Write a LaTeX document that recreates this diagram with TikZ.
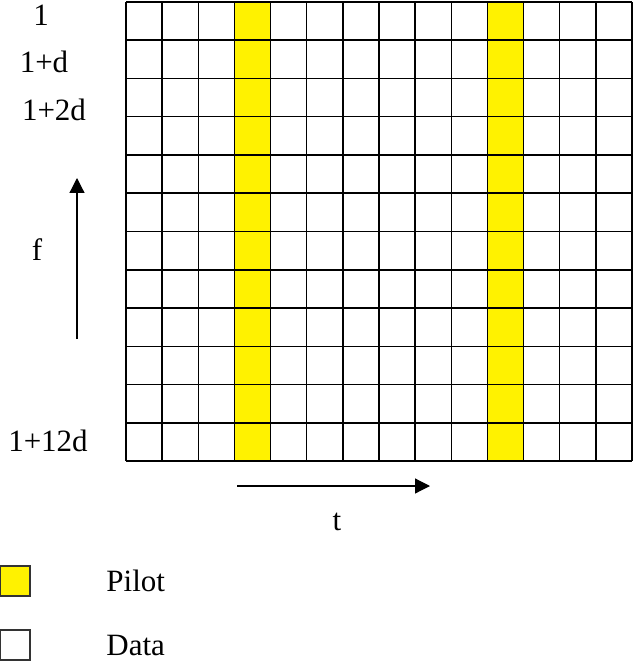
\documentclass[tikz,border=0pt]{standalone}
\usepackage{fontspec}
\setmainfont{Liberation Serif}
\usetikzlibrary{arrows.meta,positioning}

\begin{document}
\begin{tikzpicture}[
  x=0.5pt, y=-0.5pt,
  gridline/.style={line width=0.75pt},
  lbl/.style={inner sep=0pt, font=\fontsize{15.5}{18}\selectfont},
  key/.style={draw=black!80, line width=0.6pt, minimum size=15pt, inner sep=0pt},
  arr/.style={-{Triangle[length=7.5pt,width=7.5pt]}, line width=0.6pt}
]
\useasboundingbox (0,0) rectangle (634,662);

% pilot columns, then the 14 x 12 grid
\foreach \c in {3,10}
  \fill[yellow] ({126+\c*36.14},2) rectangle ({126+(\c+1)*36.14},461);
\foreach \c in {0,...,14}
  \draw[gridline] ({126+\c*36.14},2) -- ({126+\c*36.14},461);
\foreach \r in {0,...,12}
  \draw[gridline] (126,{2+\r*38.25}) -- (632,{2+\r*38.25});

% frequency labels
\node[lbl] (f1) at (41,15) {1};
\node[lbl] (f2) at (44,62) {1+d};
\node[lbl] (f3) at (54,110) {1+2d};
\node[lbl] (f13) at (48,441) {1+12d};

% axes
\coordinate (fa) at (77,339);
\coordinate (fb) at (77,178);
\draw[arr] (fa) -- (fb);
\node[lbl] (flab) at (37,250) {f};

\coordinate (ta) at (237,486);
\coordinate (tb) at (430,486);
\draw[arr] (ta) -- (tb);
\node[lbl] (tlab) at (337,522) {t};

% legend
\node[key, fill=yellow] (kp) at (15,581) {};
\node[key, fill=white] (kd) at (15,645) {};
\node[lbl, anchor=west] (lp) at (106,581) {Pilot};
\node[lbl, anchor=west] (ld) at (106,645) {Data};
\end{tikzpicture}
\end{document}
